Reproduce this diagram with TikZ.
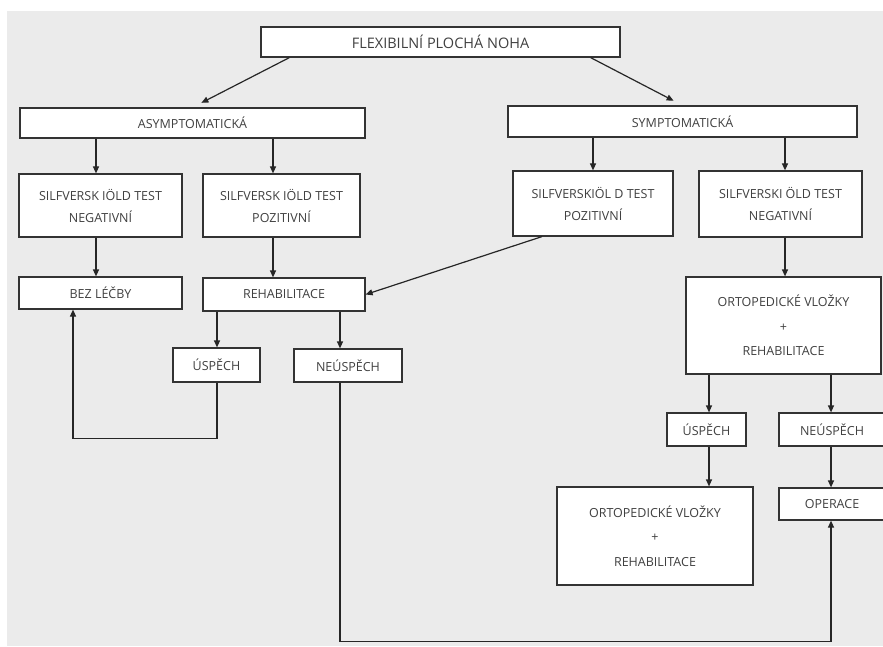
\documentclass[tikz,border=0pt]{standalone}
\usepackage{fontspec}
\setmainfont{Open Sans}
\usetikzlibrary{arrows.meta}

\begin{document}
\begin{tikzpicture}[x=1pt, y=-1pt, >={Triangle[length=7pt,width=6pt]}]

%STYLE SETTINGS
\tikzstyle{box}=[draw=black!80, line width=1.2pt, fill=white, inner sep=0pt, align=center, text=black!75, font=\fontsize{12.5}{22}\selectfont]
\tikzstyle{big}=[font=\fontsize{14.5}{18}\selectfont]
\tikzstyle{arr}=[->, draw=black!85, line width=1.2pt]

%BACKGROUND
\useasboundingbox (0,0) rectangle (883,647);
\fill[black!8] (7,11) rectangle (883,646);

%NODES
\node[box, big, minimum width=359, minimum height=30] (top) at (440.5,42) {FLEXIBILNÍ PLOCHÁ NOHA};
\node[box, minimum width=345, minimum height=30] (asym) at (192.5,123) {ASYMPTOMATICKÁ};
\node[box, minimum width=349, minimum height=31] (sym) at (682.5,121.5) {SYMPTOMATICKÁ};
\node[box, minimum width=163, minimum height=63] (negL) at (100.5,205.5) {SILFVERSK IÖLD TEST\\NEGATIVNÍ};
\node[box, minimum width=157, minimum height=63] (pozL) at (281.5,205.5) {SILFVERSK IÖLD TEST\\POZITIVNÍ};
\node[box, minimum width=160, minimum height=65] (pozR) at (593,203.5) {SILFVERSKIÖL D TEST\\POZITIVNÍ};
\node[box, minimum width=163, minimum height=66] (negR) at (780.5,204) {SILFVERSKI ÖLD TEST\\NEGATIVNÍ};
\node[box, minimum width=163, minimum height=32] (bez) at (100.5,293) {BEZ LÉČBY};
\node[box, minimum width=162, minimum height=33] (rehab) at (284,294.5) {REHABILITACE};
\node[box, minimum width=87, minimum height=34] (uspL) at (216.5,365) {ÚSPĚCH};
\node[box, minimum width=108, minimum height=33] (neuspL) at (348,365.5) {NEÚSPĚCH};
\node[box, minimum width=195, minimum height=97] (ortR) at (783.5,325.5) {ORTOPEDICKÉ VLOŽKY\\[2.5pt]+\\[2.5pt]REHABILITACE};
\node[box, minimum width=79, minimum height=33] (uspR) at (706.5,429.5) {ÚSPĚCH};
\node[box, minimum width=106, minimum height=33] (neuspR) at (832,429.5) {NEÚSPĚCH};
\node[box, minimum width=196, minimum height=98] (ortB) at (655,536) {ORTOPEDICKÉ VLOŽKY\\[2.5pt]+\\[2.5pt]REHABILITACE};
\node[box, minimum width=106, minimum height=32] (oper) at (832,504) {OPERACE};

%ARROWS
\draw[arr, shorten >=10pt] ([xshift=29]top.south west) -- (asym.north);
\draw[arr, shorten >=10pt] ([xshift=-30]top.south east) -- (sym.north);
\draw[arr] ([xshift=-4.5]negL.north |- asym.south) -- ([xshift=-4.5]negL.north);
\draw[arr] ([xshift=-8.5]pozL.north |- asym.south) -- ([xshift=-8.5]pozL.north);
\draw[arr] (pozR.north |- sym.south) -- (pozR.north);
\draw[arr] ([xshift=4.5]negR.north |- sym.south) -- ([xshift=4.5]negR.north);
\draw[arr] ([xshift=-4.5]negL.south) -- ([xshift=-4.5]bez.north);
\draw[arr] ([xshift=-8.5]pozL.south) -- ([xshift=-11]rehab.north);
\draw[arr] ([xshift=-51]pozR.south) -- (rehab.east);
\draw[arr] ([xshift=4.5]negR.south) -- ([xshift=4.5]negR.south |- ortR.north);
\draw[arr] ([xshift=0.5]uspL.north |- rehab.south) -- ([xshift=0.5]uspL.north);
\draw[arr] ([xshift=-8]neuspL.north |- rehab.south) -- ([xshift=-8]neuspL.north);
\draw[arr] ([xshift=0.5]uspL.south) -- ++(0,56) -| ([xshift=-27.5]bez.south);
\draw[arr] ([xshift=-8]neuspL.south) -- ++(0,259) -| ([xshift=-1]oper.south);
\draw[arr] ([xshift=2.5]uspR.north |- ortR.south) -- ([xshift=2.5]uspR.north);
\draw[arr] ([xshift=-1]neuspR.north |- ortR.south) -- ([xshift=-1]neuspR.north);
\draw[arr] ([xshift=2.5]uspR.south) -- ([xshift=2.5]uspR.south |- ortB.north);
\draw[arr] ([xshift=-1]neuspR.south) -- ([xshift=-1]oper.north);

\end{tikzpicture}
\end{document}
